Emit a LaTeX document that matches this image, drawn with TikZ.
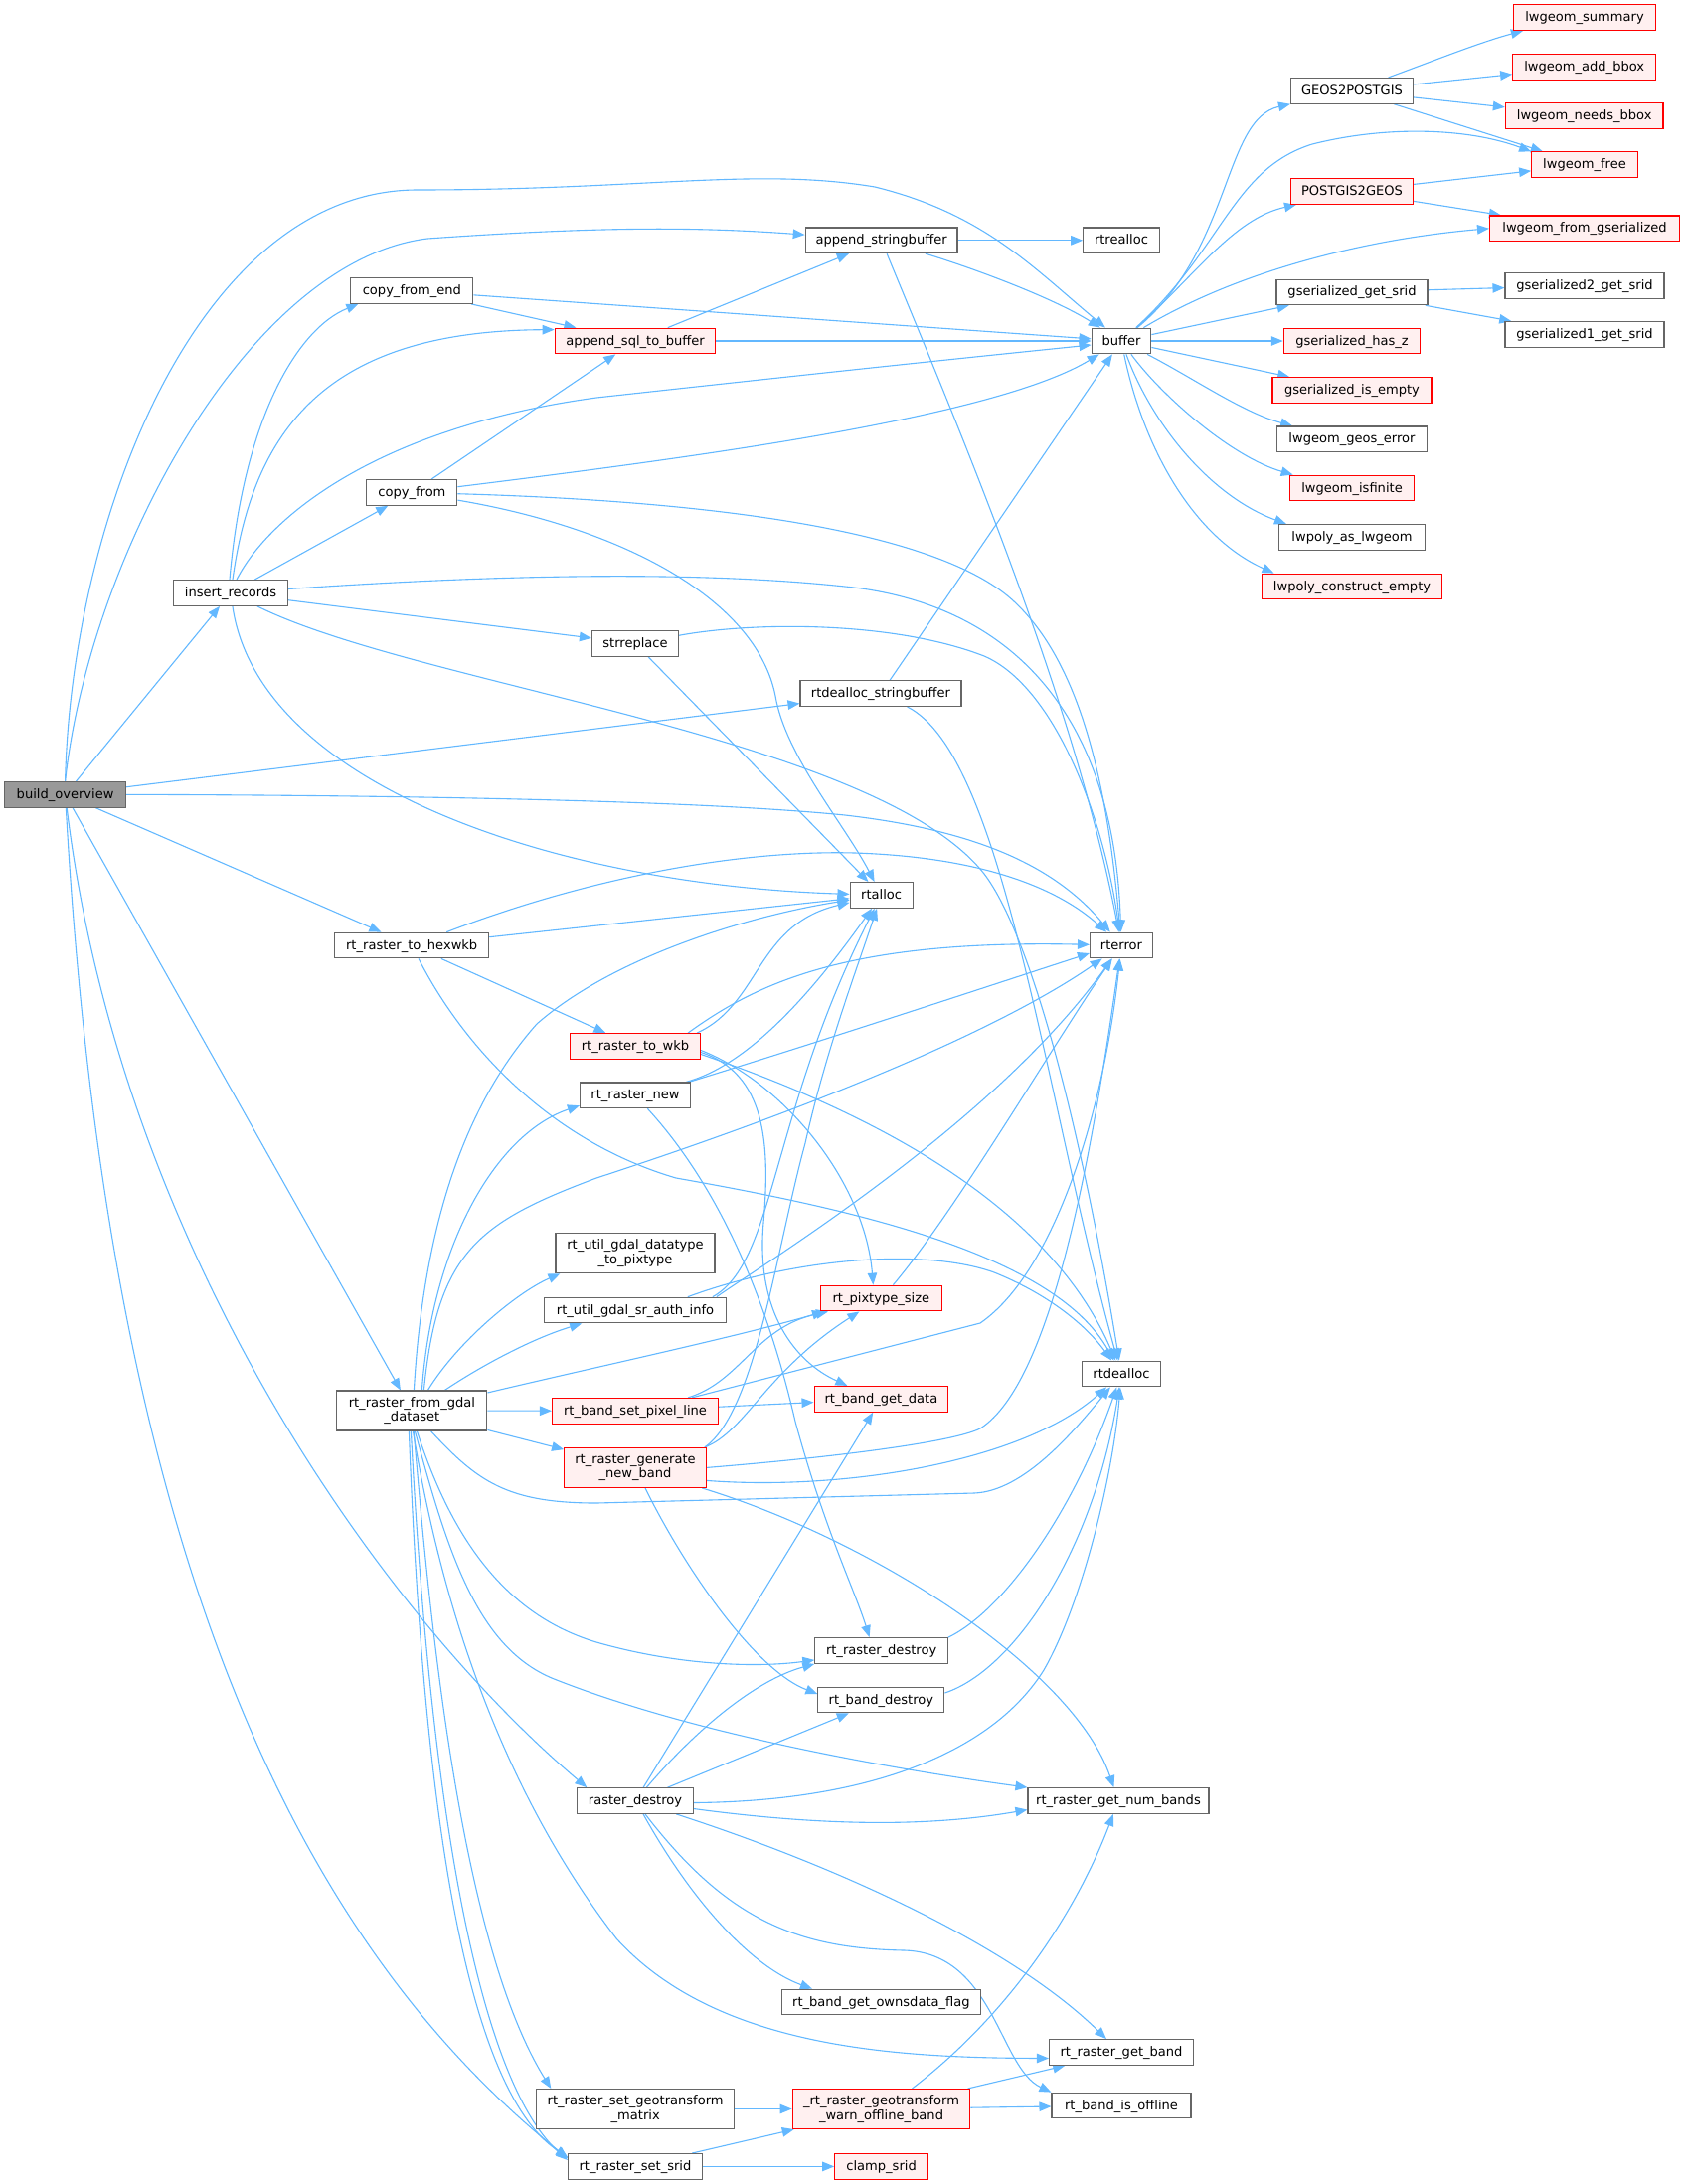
\documentclass[tikz,border=0pt]{standalone}
\usepackage{fontspec}
\setmainfont{DejaVu Sans}
\usetikzlibrary{arrows.meta}
\definecolor{edgeblue}{HTML}{63B8FF}
\definecolor{bordergray}{HTML}{666666}
\definecolor{redfill}{HTML}{FFF0F0}
\definecolor{curfill}{HTML}{999999}
\definecolor{redline}{HTML}{FF0000}
\newcommand\nodefont{\fontsize{13.05pt}{14.6pt}\selectfont}
\pgfdeclarelayer{bg}
\pgfsetlayers{bg,main}
\tikzset{
  box/.style={draw=bordergray, line width=1.1pt, fill=white, inner sep=0pt,
    minimum height=25.7pt, text height=10.3pt, text depth=2.3pt, font=\nodefont},
  boxtwo/.style={draw=bordergray, line width=1.1pt, fill=white, inner sep=0pt,
    minimum height=40pt, align=center, font=\nodefont},
  redb/.style={draw=redline, fill=redfill},
  curb/.style={fill=curfill},
  e/.style={draw=edgeblue, line width=1.1pt, -{Triangle[length=12pt,width=9.5pt]}},
}
\begin{document}
\begin{tikzpicture}[x=1pt,y=-1pt]
\useasboundingbox (0,0) rectangle (1695,2197);
% column 1
\node[box,curb,minimum width=122pt] (bo) at (65.6,799.3) {build\_overview};
\node[box,minimum width=115pt] (ir) at (232,596.5) {insert\_records};
% column 2
\node[box,minimum width=123pt] (cfe) at (414.4,292.5) {copy\_from\_end};
\node[box,minimum width=91pt] (cf) at (414.4,495.4) {copy\_from};
\node[box,minimum width=155pt] (hex) at (414.2,951) {rt\_raster\_to\_hexwkb};
\node[boxtwo,minimum width=151pt] (gdal) at (414.4,1419) {rt\_raster\_from\_gdal\\\_dataset};
% column 3
\node[box,redb,minimum width=161.5pt] (asql) at (639,343) {append\_sql\_to\_buffer};
\node[box,minimum width=87pt] (sr) at (639,647.4) {strreplace};
\node[box,redb,minimum width=131pt] (wkb) at (639,1052.5) {rt\_raster\_to\_wkb};
\node[box,minimum width=111pt] (rnew) at (639,1101.8) {rt\_raster\_new};
\node[boxtwo,minimum width=160pt] (dtp) at (639,1260.7) {rt\_util\_gdal\_datatype\\\_to\_pixtype};
\node[box,minimum width=182.6pt] (sra) at (639,1318) {rt\_util\_gdal\_sr\_auth\_info};
\node[box,redb,minimum width=167pt] (bspl) at (639,1419.3) {rt\_band\_set\_pixel\_line};
\node[boxtwo,redb,minimum width=142.7pt] (rgnb) at (639,1476.4) {rt\_raster\_generate\\\_new\_band};
\node[box,minimum width=116.3pt] (rd) at (639,1811.5) {raster\_destroy};
\node[boxtwo,minimum width=198.7pt] (sgm) at (639.2,2121.5) {rt\_raster\_set\_geotransform\\\_matrix};
\node[box,minimum width=134.7pt] (srid) at (639,2179.4) {rt\_raster\_set\_srid};
% column 4
\node[box,minimum width=152.7pt] (asb) at (886.6,241.8) {append\_stringbuffer};
\node[box,minimum width=162pt] (rdsb) at (886,697.6) {rtdealloc\_stringbuffer};
\node[box,minimum width=63pt] (rtalloc) at (886.6,900.4) {rtalloc};
\node[box,redb,minimum width=121.7pt] (pts) at (886.4,1306) {rt\_pixtype\_size};
\node[box,redb,minimum width=134.7pt] (bgd) at (886.4,1407.3) {rt\_band\_get\_data};
\node[box,minimum width=133.5pt] (rrd) at (886.6,1660.5) {rt\_raster\_destroy};
\node[box,minimum width=127pt] (rbd) at (886.4,1710) {rt\_band\_destroy};
\node[box,minimum width=199.7pt] (ownsd) at (886.4,2014) {rt\_band\_get\_ownsdata\_flag};
\node[boxtwo,redb,minimum width=178.7pt] (rgw) at (886.5,2121.5) {\_rt\_raster\_geotransform\\\_warn\_offline\_band};
\node[box,redb,minimum width=93.7pt] (clamp) at (886.6,2179.4) {clamp\_srid};
% column 5
\node[box,minimum width=76.5pt] (rtrealloc) at (1128,241.8) {rtrealloc};
\node[box,minimum width=59.7pt] (buffer) at (1128,343) {buffer};
\node[box,minimum width=63pt] (rterror) at (1128,951) {rterror};
\node[box,minimum width=79pt] (rtdealloc) at (1128,1382) {rtdealloc};
\node[box,minimum width=182pt] (rgnumb) at (1125,1811.5) {rt\_raster\_get\_num\_bands};
\node[box,minimum width=145pt] (rgb) at (1128,2064.5) {rt\_raster\_get\_band};
\node[box,minimum width=140pt] (rbio) at (1128,2118) {rt\_band\_is\_offline};
% column 6
\node[box,minimum width=123pt] (g2p) at (1360,91.3) {GEOS2POSTGIS};
\node[box,redb,minimum width=123pt] (p2g) at (1360,192.5) {POSTGIS2GEOS};
\node[box,minimum width=152pt] (ggs) at (1360,293.9) {gserialized\_get\_srid};
\node[box,redb,minimum width=137.4pt] (ghz) at (1360,343) {gserialized\_has\_z};
\node[box,redb,minimum width=160pt] (gie) at (1360,392.5) {gserialized\_is\_empty};
\node[box,minimum width=150.7pt] (lge) at (1360,441.8) {lwgeom\_geos\_error};
\node[box,redb,minimum width=125.6pt] (lif) at (1360,491) {lwgeom\_isfinite};
\node[box,minimum width=147pt] (lpal) at (1360,540.4) {lwpoly\_as\_lwgeom};
\node[box,redb,minimum width=181.8pt] (lpce) at (1360,590) {lwpoly\_construct\_empty};
% column 7
\node[box,redb,minimum width=143pt] (lws) at (1594,17.7) {lwgeom\_summary};
\node[box,redb,minimum width=144pt] (lab) at (1593.7,67.3) {lwgeom\_add\_bbox};
\node[box,redb,minimum width=158.6pt] (lnb) at (1593.7,116.4) {lwgeom\_needs\_bbox};
\node[box,redb,minimum width=106.6pt] (lwfree) at (1594,165.7) {lwgeom\_free};
\node[box,redb,minimum width=191pt] (lwfg) at (1594,229.8) {lwgeom\_from\_gserialized};
\node[box,minimum width=160pt] (gs2) at (1594,287.3) {gserialized2\_get\_srid};
\node[box,minimum width=160pt] (gs1) at (1594,336.4) {gserialized1\_get\_srid};

\begin{pgfonlayer}{bg}
% build_overview
\draw[e] (bo.north) .. controls (72,520) and (200,191) .. (420,191) .. controls (650,191) and (760,168) .. (880,188) .. controls (990,215) and (1040,270) .. (buffer);
\draw[e] (bo.north) .. controls (90,560) and (250,262) .. (430,240) .. controls (600,228) and (700,228) .. (asb);
\draw[e] (bo) -- (ir);
\draw[e] (bo) -- (rdsb);
\draw[e] (bo.east) .. controls (400,800) and (700,805) .. (850,820) .. controls (980,835) and (1060,870) .. (rterror);
\draw[e] (bo) -- (hex);
\draw[e] (bo) -- (gdal);
\draw[e] (bo) .. controls (120,1250) and (380,1620) .. ([xshift=10pt]rd.north west);
\draw[e] (bo) .. controls (105,1500) and (270,1930) .. ([yshift=-5pt]srid.north west);
% insert_records
\draw[e] ([xshift=-1pt]ir.north) .. controls (245,420) and (300,330) .. ([xshift=8pt]cfe.south west);
\draw[e] ([xshift=2pt]ir.north) .. controls (255,430) and (330,333) .. ([yshift=-2pt]asql.north west);
\draw[e] ([xshift=6pt]ir.north) .. controls (270,520) and (380,430) .. (600,400) .. controls (800,378) and (950,362) .. ([yshift=-4pt]buffer.west);
\draw[e] (ir) -- (cf);
\draw[e] (ir) -- (sr);
\draw[e] ([yshift=4pt]ir.east) .. controls (500,578) and (700,574) .. (850,590) .. controls (1000,605) and (1120,700) .. (rterror);
\draw[e] (ir) .. controls (420,690) and (880,740) .. (990,879) .. controls (1040,945) and (1090,1150) .. (rtdealloc);
\draw[e] (ir) .. controls (260,790) and (560,890) .. (rtalloc);
% copy_from_end
\draw[e] (cfe) -- (asql);
\draw[e] (cfe) -- (buffer);
% copy_from
\draw[e] (cf) -- (asql);
\draw[e] (cf) .. controls (700,460) and (1000,420) .. (buffer);
\draw[e] (cf) .. controls (750,505) and (950,540) .. (1020,605) .. controls (1090,670) and (1115,800) .. (rterror);
\draw[e] (cf) .. controls (620,530) and (760,600) .. (780,700) .. controls (790,760) and (850,830) .. (rtalloc);
% append_sql_to_buffer
\draw[e] (asql) -- (asb);
\draw[e] (asql) -- (buffer);
% append_stringbuffer
\draw[e] (asb) -- (rtrealloc);
\draw[e] (asb) .. controls (980,270) and (1060,300) .. (buffer);
\draw[e] (asb) .. controls (960,420) and (1080,700) .. (rterror);
% strreplace
\draw[e] (sr) .. controls (760,625) and (900,625) .. (990,660) .. controls (1060,690) and (1110,820) .. (rterror);
\draw[e] (sr) -- (rtalloc);
% rtdealloc_stringbuffer
\draw[e] (rdsb) -- (buffer);
\draw[e] (rdsb) .. controls (1010,760) and (1050,1100) .. (rtdealloc);
% buffer
\draw[e] (buffer) .. controls (1240,250) and (1230,120) .. (g2p.south west);
\draw[e] (buffer) .. controls (1230,250) and (1240,170) .. (1320,145) .. controls (1400,125) and (1480,130) .. (lwfree.north west);
\draw[e] (buffer) .. controls (1200,280) and (1240,220) .. ([xshift=6pt]p2g.south west);
\draw[e] (buffer) .. controls (1250,270) and (1380,240) .. (lwfg.west);
\draw[e] (buffer) -- (ggs);
\draw[e] (buffer) -- (ghz);
\draw[e] (buffer) -- (gie);
\draw[e] (buffer) .. controls (1200,380) and (1250,415) .. ([xshift=16pt]lge.north west);
\draw[e] (buffer) .. controls (1170,400) and (1240,460) .. ([xshift=4pt]lif.north west);
\draw[e] (buffer) .. controls (1160,430) and (1220,500) .. ([xshift=8pt]lpal.north west);
\draw[e] (buffer) .. controls (1150,450) and (1200,540) .. ([xshift=13pt]lpce.north west);
% GEOS2POSTGIS
\draw[e] (g2p) .. controls (1440,62) and (1490,42) .. ([xshift=10pt]lws.south west);
\draw[e] (g2p) -- (lab);
\draw[e] (g2p) -- (lnb);
\draw[e] (g2p) -- (lwfree);
% POSTGIS2GEOS
\draw[e] (p2g) -- (lwfree);
\draw[e] (p2g) -- (lwfg);
% gserialized_get_srid
\draw[e] (ggs) -- (gs2);
\draw[e] (ggs) -- (gs1);
% rt_raster_to_hexwkb
\draw[e] (hex) -- (rtalloc);
\draw[e] (hex) .. controls (600,880) and (750,855) .. (860,858) .. controls (980,862) and (1060,890) .. (rterror);
\draw[e] (hex) -- (wkb);
\draw[e] (hex) .. controls (470,1060) and (560,1150) .. (680,1185) .. controls (850,1215) and (1060,1260) .. (rtdealloc);
% rt_raster_to_wkb
\draw[e] ([xshift=-4pt]wkb.north east) .. controls (765,1010) and (760,930) .. (rtalloc);
\draw[e] ([xshift=-13pt]wkb.north east) .. controls (760,990) and (850,945) .. (rterror);
\draw[e] ([yshift=-4pt]wkb.east) .. controls (790,1090) and (870,1190) .. ([xshift=-8pt]pts.north);
\draw[e] ([yshift=-6pt]wkb.east) .. controls (770,1080) and (775,1150) .. (768,1230) .. controls (760,1320) and (800,1370) .. ([xshift=-34pt]bgd.north);
\draw[e] ([yshift=-8pt]wkb.east) .. controls (850,1110) and (1050,1200) .. (rtdealloc);
% rt_raster_new
\draw[e] (rnew) .. controls (760,1070) and (830,980) .. (rtalloc);
\draw[e] ([xshift=-2pt]rnew.north east) .. controls (850,1040) and (1000,990) .. ([yshift=-8pt]rterror.west);
\draw[e] (rnew) .. controls (720,1190) and (770,1300) .. (800,1430) .. controls (830,1540) and (860,1600) .. ([xshift=-12pt]rrd.north);
% rt_raster_from_gdal_dataset
\draw[e] ([xshift=2pt]gdal.north) .. controls (425,1250) and (460,1120) .. (540,1030) .. controls (620,960) and (760,920) .. (rtalloc);
\draw[e] ([xshift=10pt]gdal.north) .. controls (435,1250) and (500,1140) .. ([yshift=3pt]rnew.south west);
\draw[e] ([xshift=12pt]gdal.north) .. controls (440,1260) and (480,1230) .. (600,1185) .. controls (800,1120) and (1000,1040) .. (rterror);
\draw[e] ([xshift=16pt]gdal.north) .. controls (460,1350) and (520,1300) .. ([xshift=5pt]dtp.south west);
\draw[e] ([xshift=33pt]gdal.north) .. controls (490,1370) and (540,1345) .. ([xshift=38pt]sra.south west);
\draw[e] (gdal) .. controls (600,1375) and (740,1345) .. ([xshift=4pt]pts.south west);
\draw[e] (gdal) -- (bspl);
\draw[e] (gdal) -- (rgnb);
\draw[e] (gdal) .. controls (480,1490) and (510,1512) .. (600,1512) -- (980,1502) .. controls (1030,1500) and (1080,1440) .. (rtdealloc);
\draw[e] ([xshift=5pt]gdal.south) .. controls (455,1550) and (510,1625) .. (600,1652) .. controls (680,1675) and (760,1678) .. ([yshift=4pt]rrd.south west);
\draw[e] ([xshift=3pt]gdal.south) .. controls (450,1560) and (480,1660) .. (560,1690) .. controls (700,1745) and (900,1780) .. (rgnumb.north west);
\draw[e] ([xshift=1pt]gdal.south) .. controls (450,1650) and (520,1820) .. (620,1950) .. controls (720,2060) and (900,2070) .. ([yshift=-6pt]rgb.west);
\draw[e] (gdal) .. controls (430,1600) and (460,1950) .. ([xshift=15pt]sgm.north west);
\draw[e] ([xshift=-3pt]gdal.south) .. controls (425,1800) and (465,2100) .. ([yshift=-4pt]srid.north west);
\draw[e] ([xshift=-1pt]gdal.south) .. controls (432,1800) and (478,2090) .. ([yshift=-7pt]srid.north west);
% rt_band_set_pixel_line
\draw[e] ([xshift=-31pt]bspl.north east) .. controls (745,1390) and (760,1335) .. ([xshift=8pt]pts.south west);
\draw[e] (bspl) -- (bgd);
\draw[e] ([xshift=-27pt]bspl.north east) -- (986,1331) .. controls (1060,1280) and (1110,1120) .. (rterror);
% rt_pixtype_size
\draw[e] ([xshift=12pt]pts.north) .. controls (960,1220) and (1060,1050) .. (rterror);
% rt_util_gdal_sr_auth_info
\draw[e] ([xshift=-14pt]sra.north east) .. controls (780,1270) and (775,1120) .. (rtalloc);
\draw[e] ([xshift=-10pt]sra.north east) .. controls (770,1270) and (1000,1130) .. (rterror);
\draw[e] ([xshift=-39pt]sra.north east) .. controls (800,1265) and (930,1255) .. (1000,1280) .. controls (1050,1300) and (1090,1330) .. (rtdealloc);
% rt_raster_generate_new_band
\draw[e] ([xshift=-2pt]rgnb.north east) .. controls (760,1420) and (780,1260) .. (810,1150) .. controls (830,1060) and (860,980) .. (rtalloc);
\draw[e] ([xshift=-2pt]rgnb.north east) .. controls (750,1440) and (770,1380) .. ([xshift=-22pt]pts.south);
\draw[e] (rgnb.east) .. controls (850,1465) and (960,1450) .. (986,1437) .. controls (1060,1390) and (1100,1150) .. (rterror);
\draw[e] ([yshift=-13pt]rgnb.east) .. controls (850,1500) and (1030,1470) .. (rtdealloc);
\draw[e] (rgnb) .. controls (880,1550) and (1080,1680) .. (rgnumb);
\draw[e] ([xshift=10pt]rgnb.south) .. controls (690,1580) and (760,1680) .. ([yshift=6pt]rbd.west);
% rt_raster_destroy, rt_band_destroy
\draw[e] (rrd.north east) .. controls (1010,1620) and (1080,1520) .. (rtdealloc);
\draw[e] ([yshift=7pt]rbd.east) .. controls (1020,1680) and (1100,1560) .. (rtdealloc);
% raster_destroy
\draw[e] (rd) -- (bgd);
\draw[e] (rd) .. controls (700,1740) and (760,1690) .. (rrd.south west);
\draw[e] (rd) -- (rbd);
\draw[e] ([yshift=-2pt]rd.east) .. controls (880,1812) and (1000,1760) .. (1050,1680) .. controls (1090,1610) and (1120,1480) .. (rtdealloc);
\draw[e] ([yshift=-8pt]rd.east) .. controls (850,1840) and (950,1835) .. ([yshift=-9pt]rgnumb.west);
\draw[e] (rd) .. controls (850,1880) and (1020,1960) .. ([xshift=-15pt]rgb.north);
\draw[e] ([xshift=8pt]rd.south) .. controls (700,1920) and (760,1980) .. ([xshift=31pt]ownsd.north west);
\draw[e] ([xshift=10pt]rd.south) .. controls (730,1930) and (800,1960) .. (910,1962) .. controls (1000,1965) and (1005,2080) .. (rbio.north west);
% _rt_raster_geotransform_warn_offline_band
\draw[e] ([xshift=31pt]rgw.north) .. controls (1010,2030) and (1080,1930) .. (rgnumb);
\draw[e] (rgw) -- (rgb);
\draw[e] (rgw) -- (rbio);
% set geotransform / set srid
\draw[e] (sgm) -- (rgw);
\draw[e] (srid) -- (rgw);
\draw[e] (srid) -- (clamp);
\end{pgfonlayer}
\end{tikzpicture}
\end{document}
